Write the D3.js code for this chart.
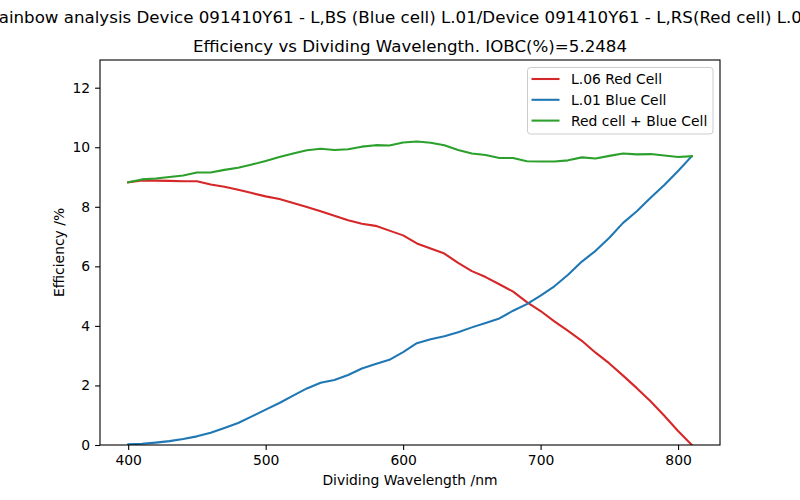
<!DOCTYPE html>
<html>
<head>
<meta charset="utf-8">
<script src="https://cdn.jsdelivr.net/npm/d3@7"></script>
<style>
  body { margin: 0; background: #fff; }
  svg { display: block; font-family: "DejaVu Sans", sans-serif; }
</style>
</head>
<body>
<svg id="chart" width="800" height="500"></svg>
<script>
const wavelengths = [400,410,420,430,440,450,460,470,480,490,500,510,520,530,540,550,560,570,580,590,600,610,620,630,640,650,660,670,680,690,700,710,720,730,740,750,760,770,780,790,800,810];
const redCell = [8.82,8.88,8.88,8.87,8.86,8.86,8.75,8.67,8.57,8.46,8.35,8.26,8.13,7.99,7.85,7.70,7.55,7.43,7.36,7.20,7.04,6.77,6.60,6.43,6.12,5.84,5.64,5.40,5.15,4.80,4.50,4.15,3.83,3.50,3.10,2.74,2.33,1.91,1.47,0.98,0.47,0.00];
const blueCell = [0.02,0.04,0.08,0.13,0.20,0.29,0.41,0.57,0.74,0.96,1.19,1.41,1.66,1.90,2.09,2.18,2.35,2.57,2.72,2.86,3.12,3.42,3.55,3.65,3.79,3.95,4.10,4.25,4.51,4.73,5.02,5.33,5.72,6.16,6.52,6.96,7.46,7.85,8.30,8.73,9.20,9.70];
const sumCell = [8.82,8.92,8.95,9.00,9.05,9.15,9.15,9.24,9.31,9.42,9.54,9.67,9.79,9.90,9.95,9.91,9.93,10.02,10.07,10.06,10.16,10.19,10.15,10.07,9.91,9.79,9.74,9.64,9.64,9.53,9.52,9.52,9.56,9.66,9.62,9.71,9.79,9.76,9.77,9.72,9.67,9.70];
const xTicks = [400,500,600,700,800];
const yTicks = [0,2,4,6,8,10,12];
const seriesNames = ["L.06 Red Cell","L.01 Blue Cell","Red cell + Blue Cell"];
const seriesColors = ["#d62728","#1f77b4","#2ca02c"];
const supTitle = "Rainbow analysis Device 091410Y61 - L,BS (Blue cell) L.01/Device 091410Y61 - L,RS(Red cell) L.06";
const axTitle = "Efficiency vs Dividing Wavelength. IOBC(%)=5.2484";
const xLabel = "Dividing Wavelength /nm";
const yLabel = "Efficiency /%";

const svg = d3.select("#chart");
const L = 100, R = 720, T = 60, B = 445;
const x = d3.scaleLinear().domain([379.5, 830.5]).range([L, R]);
const y = d3.scaleLinear().domain([0, 12.93]).range([B, T]);

const series = [redCell, blueCell, sumCell];
const line = d3.line().x((d, i) => x(wavelengths[i])).y(d => y(d));

const clip = svg.append("clipPath").attr("id", "clip").append("rect")
  .attr("x", L).attr("y", T).attr("width", R - L).attr("height", B - T);

const g = svg.append("g").attr("clip-path", "url(#clip)");
series.forEach((s, k) => {
  g.append("path").datum(s).attr("d", line)
    .attr("fill", "none").attr("stroke", seriesColors[k])
    .attr("stroke-width", 2.08).attr("stroke-linejoin", "round").attr("stroke-linecap", "square");
});

// axes
const xAxis = d3.axisBottom(x).tickValues(xTicks).tickSize(4.9).tickPadding(4.9).tickFormat(d3.format("d"));
const yAxis = d3.axisLeft(y).tickValues(yTicks).tickSize(4.9).tickPadding(4.9).tickFormat(d3.format("d"));
const gx = svg.append("g").attr("transform", `translate(0,${B})`).call(xAxis);
const gy = svg.append("g").attr("transform", `translate(${L},0)`).call(yAxis);
[gx, gy].forEach(a => {
  a.select(".domain").remove();
  a.selectAll(".tick line").attr("stroke", "#000").attr("stroke-width", 1.1);
  a.selectAll(".tick text").attr("fill", "#000").style("font-size", "13.9px").style("font-family", "DejaVu Sans");
});

// frame
svg.append("rect").attr("x", L).attr("y", T).attr("width", R - L).attr("height", B - T)
  .attr("fill", "none").attr("stroke", "#000").attr("stroke-width", 1.1);

// titles
svg.append("text").attr("x", 400).attr("y", 23).attr("text-anchor", "middle")
  .style("font-size", "16.67px").text(supTitle);
svg.append("text").attr("x", (L + R) / 2).attr("y", 52).attr("text-anchor", "middle")
  .style("font-size", "16.67px").text(axTitle);
svg.append("text").attr("x", (L + R) / 2).attr("y", 485).attr("text-anchor", "middle")
  .style("font-size", "13.9px").text(xLabel);
svg.append("text").attr("transform", `translate(64,${(T + B) / 2}) rotate(-90)`).attr("text-anchor", "middle")
  .style("font-size", "13.9px").text(yLabel);

// legend
const lg = svg.append("g");
lg.append("rect").attr("x", 527.5).attr("y", 67.5).attr("width", 185.5).attr("height", 66.5)
  .attr("rx", 3).attr("fill", "#fff").attr("fill-opacity", 0.8)
  .attr("stroke", "#cccccc").attr("stroke-width", 1);
seriesNames.forEach((n, k) => {
  const yy = 79 + k * 20.8;
  lg.append("line").attr("x1", 531.5).attr("x2", 559.5).attr("y1", yy).attr("y2", yy)
    .attr("stroke", seriesColors[k]).attr("stroke-width", 2.08);
  lg.append("text").attr("x", 571).attr("y", yy + 5).style("font-size", "13.9px").text(n);
});
</script>
</body>
</html>
